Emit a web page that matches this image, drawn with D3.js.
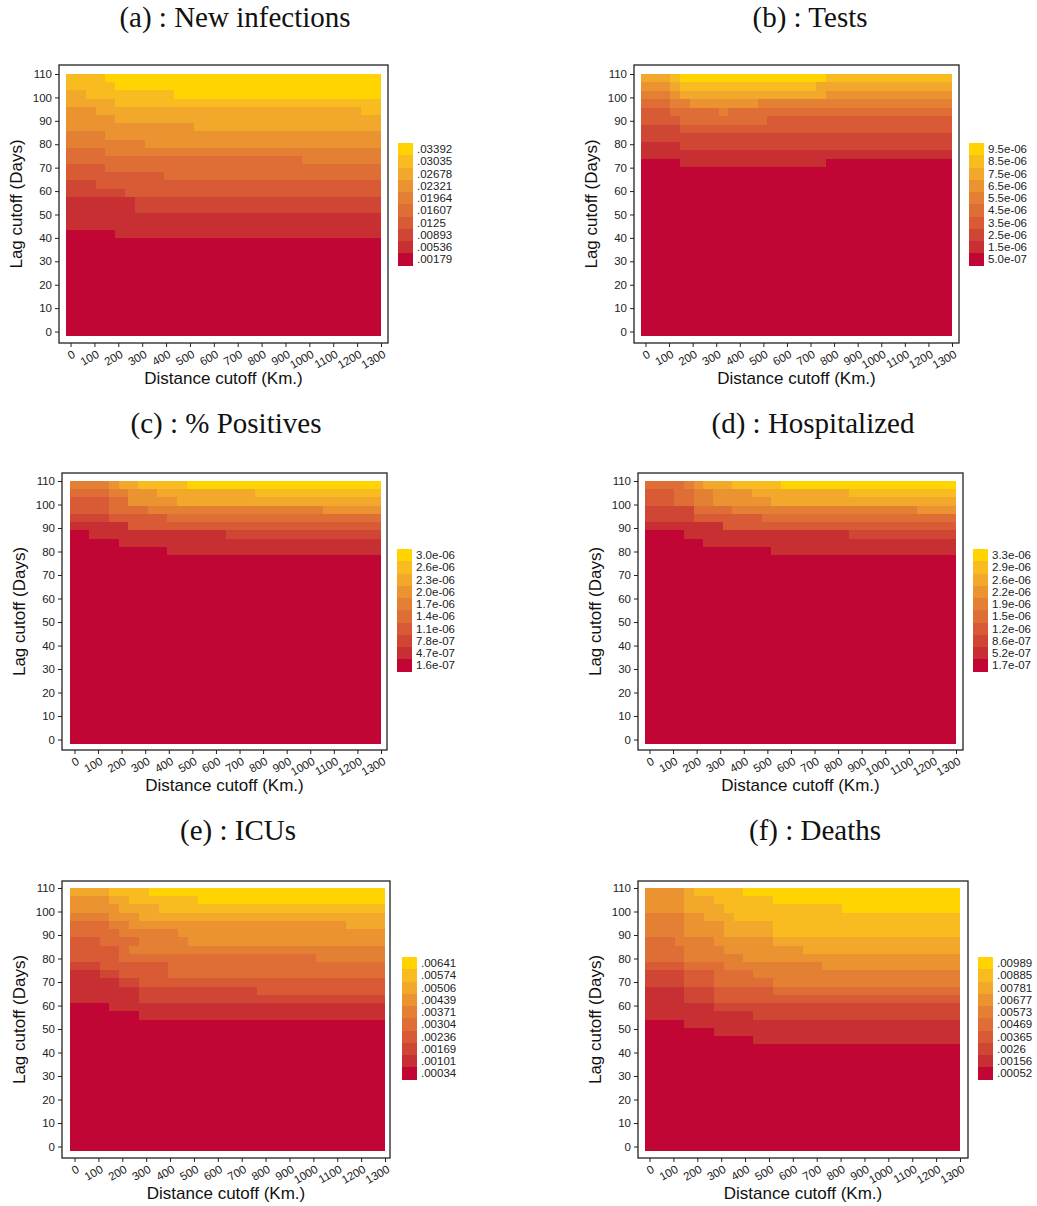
<!DOCTYPE html>
<html><head><meta charset="utf-8">
<script src="https://cdn.jsdelivr.net/npm/d3@7"></script>
<style>body{margin:0;background:#fff}</style>
</head><body>
<svg id="chart" width="1037" height="1206"></svg>
<script>
// ---------- data ----------
const distanceTicks = [0,100,200,300,400,500,600,700,800,900,1000,1100,1200,1300];
const lagTicks = [0,10,20,30,40,50,60,70,80,90,100,110];
// grid extent of the contour heat map (32 x 32 cells)
const distanceRange = [-19, 1300];
const lagRange = [-1.9, 110];

const titles = ["(a) : New infections","(b) : Tests","(c) : % Positives","(d) : Hospitalized","(e) : ICUs","(f) : Deaths"];

// legend values, top (highest level 9) to bottom (level 0)
const legendA = [".03392",".03035",".02678",".02321",".01964",".01607",".0125",".00893",".00536",".00179"];
const legendB = ["9.5e-06","8.5e-06","7.5e-06","6.5e-06","5.5e-06","4.5e-06","3.5e-06","2.5e-06","1.5e-06","5.0e-07"];
const legendC = ["3.0e-06","2.6e-06","2.3e-06","2.0e-06","1.7e-06","1.4e-06","1.1e-06","7.8e-07","4.7e-07","1.6e-07"];
const legendD = ["3.3e-06","2.9e-06","2.6e-06","2.2e-06","1.9e-06","1.5e-06","1.2e-06","8.6e-07","5.2e-07","1.7e-07"];
const legendE = [".00641",".00574",".00506",".00439",".00371",".00304",".00236",".00169",".00101",".00034"];
const legendF = [".00989",".00885",".00781",".00677",".00573",".00469",".00365",".0026",".00156",".00052"];

// contour level of each cell: rows from lag 110 (top) downwards,
// each row is run-length coded as [level, number of distance cells]
const Z = [[0,32]];
const gridA = [
 [[8,4],[9,28]], [[8,5],[9,27]], [[7,2],[8,9],[9,21]], [[7,5],[8,27]],
 [[6,3],[7,27],[8,2]], [[6,5],[7,27]], [[6,13],[7,19]], [[5,4],[6,28]],
 [[5,8],[6,24]], [[4,4],[5,28]], [[4,24],[5,8]], [[3,4],[4,28]],
 [[3,10],[4,22]], [[2,3],[3,29]], [[2,6],[3,26]], [[1,7],[2,25]],
 [[1,7],[2,25]], [[1,32]], [[1,32]], [[0,5],[1,27]],
 Z,Z,Z,Z,Z,Z,Z,Z,Z,Z,Z,Z
];
const gridB = [
 [[7,3],[8,1],[9,15],[8,13]], [[6,3],[7,1],[8,14],[7,14]], [[5,3],[6,1],[7,15],[6,13]],
 [[4,3],[5,2],[6,7],[5,20]], [[3,3],[4,5],[5,1],[4,23]], [[3,4],[4,9],[3,19]],
 [[2,4],[3,28]], [[2,32]], [[1,4],[2,28]], [[1,32]], [[0,4],[1,15],[0,13]],
 Z,Z,Z,Z,Z,Z,Z,Z,Z,Z,Z,Z,Z,Z,Z,Z,Z,Z,Z,Z
];
const gridC = [
 [[5,4],[6,1],[7,2],[8,5],[9,20]], [[4,4],[5,2],[6,3],[7,10],[8,13]],
 [[3,4],[4,2],[6,5],[7,21]], [[3,4],[4,4],[5,18],[6,6]], [[2,4],[3,6],[4,22]],
 [[1,6],[3,26]], [[0,2],[1,14],[2,16]], [[0,5],[1,27]], [[0,10],[1,22]],
 Z,Z,Z,Z,Z,Z,Z,Z,Z,Z,Z,Z,Z,Z,Z,Z,Z,Z,Z,Z,Z,Z,Z
];
const gridD = [
 [[4,4],[5,1],[6,1],[7,3],[8,5],[9,18]], [[3,3],[4,2],[5,2],[6,4],[7,10],[8,11]],
 [[3,3],[4,2],[5,2],[6,6],[7,19]], [[2,5],[4,4],[5,19],[6,4]], [[2,5],[3,7],[4,20]],
 [[1,8],[3,24]], [[0,4],[1,17],[2,11]], [[0,6],[1,26]], [[0,13],[1,19]],
 Z,Z,Z,Z,Z,Z,Z,Z,Z,Z,Z,Z,Z,Z,Z,Z,Z,Z,Z,Z,Z,Z,Z
];
const gridE = [
 [[7,4],[8,4],[9,24]], [[6,4],[7,2],[8,7],[9,19]], [[6,5],[7,4],[8,23]],
 [[5,4],[6,3],[7,25]], [[4,4],[5,2],[6,22],[7,4]], [[4,5],[5,6],[6,21]],
 [[3,3],[4,4],[5,5],[6,20]], [[3,5],[4,1],[5,26]], [[3,5],[4,20],[5,7]],
 [[2,3],[3,7],[4,22]], [[1,3],[2,2],[3,5],[4,22]], [[1,5],[2,2],[3,25]],
 [[1,7],[2,12],[3,13]], [[1,7],[2,25]], [[0,4],[1,28]], [[0,7],[1,25]],
 Z,Z,Z,Z,Z,Z,Z,Z,Z,Z,Z,Z,Z,Z,Z,Z
];
const gridF = [
 [[6,4],[7,1],[8,5],[9,22]], [[6,4],[7,3],[8,6],[9,19]], [[6,4],[7,4],[8,12],[9,12]],
 [[5,4],[6,2],[7,3],[8,23]], [[5,4],[6,4],[7,5],[8,19]], [[5,4],[6,4],[7,5],[8,19]],
 [[4,3],[5,4],[6,6],[7,19]], [[4,4],[5,4],[6,8],[7,16]], [[4,4],[5,6],[6,22]],
 [[3,4],[4,4],[5,10],[6,14]], [[2,4],[3,3],[4,4],[5,21]], [[2,4],[3,3],[4,6],[5,19]],
 [[1,4],[2,3],[3,6],[4,19]], [[1,4],[2,3],[3,25]], [[1,7],[2,25]], [[1,11],[2,21]],
 [[0,4],[1,28]], [[0,7],[1,25]], [[0,11],[1,21]],
 Z,Z,Z,Z,Z,Z,Z,Z,Z,Z,Z,Z,Z
];

// ---------- style / layout ----------
const levelColors = ["#C10534","#C72F33","#D04635","#D85B36","#DE6E35","#E38034","#EA9330","#F2A82B","#F8BC21","#FFD400"];
const layouts = [
 {frame:[59,65,388,343], fill:[66,74,381,336], legend:[398,143], title:[235,27], ytx:16},
 {frame:[634,65,959,343], fill:[641,74,952,336], legend:[969,143], title:[810,27], ytx:591},
 {frame:[62,473,387,750], fill:[70,481,381,744], legend:[397,549], title:[226,433], ytx:19},
 {frame:[638,473,963,750], fill:[645,481,956,744], legend:[973,549], title:[813,433], ytx:595},
 {frame:[62,881,390,1158], fill:[70,888,385,1151], legend:[402,957], title:[238,840], ytx:19},
 {frame:[638,881,968,1158], fill:[645,888,960,1151], legend:[978,957], title:[815,840], ytx:595}
];
const grids = [gridA,gridB,gridC,gridD,gridE,gridF];
const legends = [legendA,legendB,legendC,legendD,legendE,legendF];

const svg = d3.select("#chart");
const SANS = "'Liberation Sans', Arial, Helvetica, sans-serif";
const SERIF = "'Liberation Serif', 'Times New Roman', serif";

grids.forEach((grid, pi) => {
  const L = layouts[pi];
  const g = svg.append("g");
  const x = d3.scaleLinear().domain(distanceRange).range([L.fill[0], L.fill[2]]);
  const y = d3.scaleLinear().domain(lagRange).range([L.fill[3], L.fill[1]]);
  const nRows = grid.length;
  const dx = (distanceRange[1]-distanceRange[0]) / 32;
  const dy = (lagRange[1]-lagRange[0]) / nRows;

  const clipId = "clip" + pi;
  svg.append("clipPath").attr("id", clipId).append("rect")
    .attr("x", L.fill[0]).attr("y", L.fill[1])
    .attr("width", L.fill[2]-L.fill[0]).attr("height", L.fill[3]-L.fill[1]);

  // cells
  const cells = [];
  grid.forEach((row, r) => {
    let c = 0;
    row.forEach(([lev, n]) => {
      cells.push({r, c0:c, c1:c+n, lev});
      c += n;
    });
  });
  g.append("g").attr("clip-path", `url(#${clipId})`)
    .selectAll("rect").data(cells).join("rect")
    .attr("shape-rendering","crispEdges")
    .attr("x", d => x(distanceRange[0] + d.c0*dx))
    .attr("width", d => x(distanceRange[0] + d.c1*dx) - x(distanceRange[0] + d.c0*dx) + 1)
    .attr("y", d => y(lagRange[1] - d.r*dy))
    .attr("height", d => y(lagRange[1] - (d.r+1)*dy) - y(lagRange[1] - d.r*dy) + 1)
    .attr("fill", d => levelColors[d.lev]);

  // frame
  const F = L.frame;
  g.append("rect").attr("x",F[0]).attr("y",F[1]).attr("width",F[2]-F[0]).attr("height",F[3]-F[1])
    .attr("fill","none").attr("stroke","#222").attr("stroke-width",1.3);

  // y axis
  const ya = g.append("g").attr("transform",`translate(${F[0]},0)`)
    .call(d3.axisLeft(y).tickValues(lagTicks).tickFormat(d3.format("d")).tickSize(4).tickPadding(3));
  ya.select(".domain").remove();
  ya.selectAll("line").attr("stroke","#222");
  ya.selectAll("text").attr("font-family",SANS).attr("font-size","11.5px").attr("fill","#222");

  // x axis
  const xa = g.append("g").attr("transform",`translate(0,${F[3]})`)
    .call(d3.axisBottom(x).tickValues(distanceTicks).tickFormat(d3.format("d")).tickSize(4));
  xa.select(".domain").remove();
  xa.selectAll("line").attr("stroke","#222");
  xa.selectAll("text").attr("font-family",SANS).attr("font-size","11.5px").attr("fill","#222")
    .attr("y",0).attr("dy","0.35em").attr("text-anchor","end")
    .attr("transform","translate(3,10) rotate(-30)");

  // axis titles
  g.append("text").attr("transform",`translate(${L.ytx},${(F[1]+F[3])/2}) rotate(-90)`)
    .attr("dy","0.35em").attr("text-anchor","middle").attr("font-family",SANS).attr("font-size","17px")
    .attr("fill","#111").text("Lag cutoff (Days)");
  g.append("text").attr("x",(F[0]+F[2])/2).attr("y",F[3]+41)
    .attr("text-anchor","middle").attr("font-family",SANS).attr("font-size","17px")
    .attr("fill","#111").text("Distance cutoff (Km.)");

  // title
  g.append("text").attr("x",L.title[0]).attr("y",L.title[1]).attr("text-anchor","middle")
    .attr("font-family",SERIF).attr("font-size","29px").attr("fill","#111").text(titles[pi]);

  // legend
  const lg = g.append("g").attr("transform",`translate(${L.legend[0]},${L.legend[1]})`);
  const lab = legends[pi];
  lg.selectAll("rect").data(lab).join("rect")
    .attr("shape-rendering","crispEdges")
    .attr("x",0).attr("y",(d,i)=>i*12.25).attr("width",15).attr("height",12.6)
    .attr("fill",(d,i)=>levelColors[9-i]);
  lg.selectAll("text").data(lab).join("text")
    .attr("x",19).attr("y",(d,i)=>i*12.25+6.1).attr("dy","0.35em")
    .attr("font-family",SANS).attr("font-size","11.5px").attr("fill","#222").text(d=>d);
});
</script>
</body></html>
